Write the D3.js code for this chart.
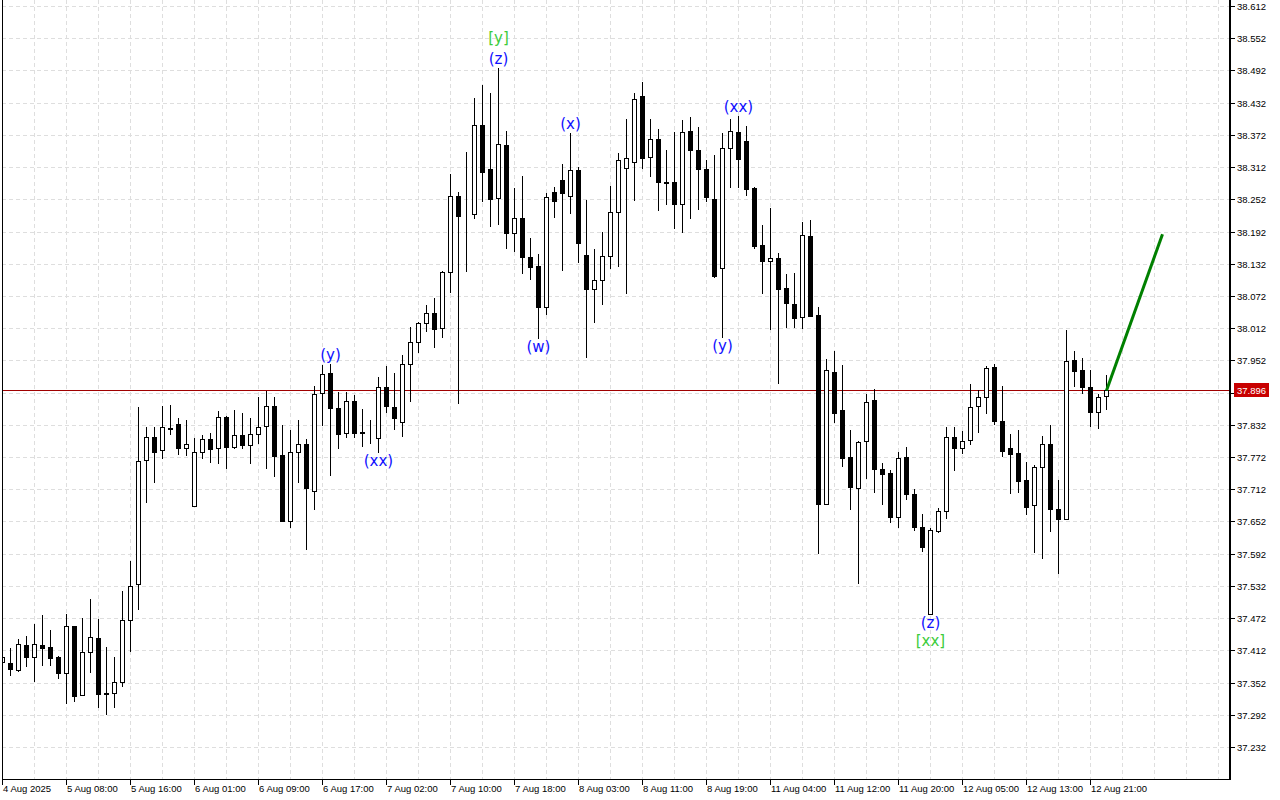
<!DOCTYPE html>
<html><head><meta charset="utf-8">
<script src="https://cdn.jsdelivr.net/npm/d3@7"></script>
<style>html,body{margin:0;padding:0;background:#fff;overflow:hidden}svg{display:block}</style>
</head><body>
<svg id="c" width="1280" height="800"></svg>
<script>
// ---- DATA (hourly bars) ----
const opens = [37.390,37.388,37.375,37.422,37.400,37.422,37.418,37.400,37.370,37.457,
37.329,37.409,37.435,37.333,37.333,37.353,37.469,37.536,37.767,37.809,
37.785,37.826,37.834,37.789,37.681,37.781,37.806,37.789,37.847,37.791,
37.813,37.794,37.815,37.830,37.867,37.776,37.653,37.781,37.796,37.709,
37.891,37.929,37.863,37.817,37.876,37.819,37.815,37.808,37.902,37.865,
37.837,37.945,37.986,38.022,38.040,38.012,38.117,38.258,38.224,38.225,
38.390,38.309,38.254,38.353,38.189,38.217,38.145,38.128,38.051,38.266,
38.288,38.258,38.307,38.148,38.085,38.102,38.146,38.228,38.310,38.322,
38.444,38.331,38.364,38.284,38.284,38.243,38.379,38.344,38.309,38.253,
38.124,38.348,38.377,38.361,38.273,38.167,38.137,38.143,38.087,38.057,
38.033,38.184,38.037,37.685,37.930,37.860,37.772,37.714,37.802,37.878,
37.750,37.742,37.660,37.772,37.703,37.642,37.480,37.634,37.672,37.809,
37.789,37.804,37.867,37.884,37.940,37.839,37.789,37.780,37.729,37.683,
37.754,37.796,37.675,37.657,37.953,37.934,37.902,37.856,37.886];
const highs = [37.403,37.416,37.433,37.439,37.461,37.478,37.450,37.402,37.480,37.458,
37.472,37.508,37.470,37.418,37.400,37.522,37.578,37.865,37.828,37.828,
37.867,37.869,37.845,37.841,37.808,37.813,37.817,37.858,37.849,37.860,
37.854,37.845,37.884,37.895,37.884,37.832,37.822,37.841,37.806,37.904,
37.943,37.945,37.893,37.893,37.888,37.862,37.841,37.921,37.942,37.929,
37.962,38.014,38.024,38.055,38.068,38.119,38.299,38.266,38.340,38.441,
38.465,38.450,38.497,38.379,38.273,38.295,38.180,38.150,38.264,38.275,
38.318,38.375,38.312,38.251,38.160,38.191,38.277,38.338,38.402,38.450,
38.471,38.402,38.383,38.344,38.377,38.400,38.405,38.387,38.325,38.335,
38.375,38.402,38.407,38.389,38.274,38.204,38.236,38.152,38.113,38.115,
38.210,38.213,38.051,37.955,37.970,37.943,37.822,37.801,37.889,37.899,
37.761,37.748,37.781,37.791,37.712,37.666,37.640,37.677,37.828,37.828,
37.820,37.908,37.897,37.942,37.945,37.904,37.815,37.822,37.763,37.757,
37.811,37.832,37.729,38.009,37.970,37.957,37.934,37.889,37.925];
const lows = [37.387,37.366,37.374,37.383,37.355,37.385,37.385,37.361,37.314,37.318,
37.328,37.372,37.307,37.293,37.307,37.346,37.411,37.489,37.688,37.726,
37.770,37.815,37.778,37.776,37.680,37.770,37.763,37.761,37.752,37.789,
37.789,37.761,37.798,37.752,37.737,37.652,37.642,37.726,37.601,37.675,
37.832,37.739,37.789,37.809,37.809,37.793,37.798,37.781,37.856,37.824,
37.811,37.876,37.968,38.007,37.977,37.996,38.079,37.873,38.119,38.217,
38.249,38.202,38.206,38.161,38.156,38.115,38.104,37.994,38.038,38.219,
38.120,38.226,38.135,37.958,38.024,38.057,38.124,38.128,38.078,38.251,
38.310,38.295,38.232,38.243,38.199,38.191,38.217,38.234,38.249,38.108,
37.996,38.275,38.275,38.260,38.161,38.078,38.011,37.910,38.014,38.014,
38.012,38.034,37.593,37.684,37.837,37.755,37.675,37.537,37.733,37.707,
37.685,37.651,37.642,37.694,37.636,37.597,37.479,37.632,37.658,37.748,
37.780,37.796,37.819,37.854,37.834,37.774,37.705,37.707,37.666,37.595,
37.584,37.634,37.556,37.656,37.904,37.891,37.830,37.826,37.862];
const closes = [37.400,37.377,37.424,37.400,37.424,37.416,37.398,37.370,37.457,37.327,
37.409,37.437,37.331,37.331,37.353,37.469,37.532,37.765,37.809,37.781,
37.828,37.824,37.789,37.796,37.781,37.806,37.787,37.847,37.791,37.813,
37.794,37.815,37.828,37.867,37.774,37.653,37.781,37.796,37.714,37.889,
37.927,37.863,37.815,37.876,37.817,37.817,37.814,37.902,37.867,37.845,
37.945,37.986,38.022,38.040,38.011,38.117,38.258,38.221,38.225,38.390,
38.303,38.253,38.355,38.189,38.217,38.145,38.126,38.051,38.256,38.249,
38.264,38.307,38.171,38.085,38.102,38.146,38.228,38.325,38.329,38.439,
38.329,38.364,38.284,38.282,38.243,38.377,38.344,38.309,38.256,38.109,
38.348,38.379,38.327,38.271,38.165,38.137,38.143,38.085,38.059,38.031,
38.186,38.035,37.685,37.934,37.854,37.770,37.716,37.800,37.874,37.750,
37.740,37.660,37.770,37.703,37.642,37.605,37.636,37.672,37.809,37.789,
37.802,37.865,37.884,37.938,37.839,37.783,37.778,37.727,37.679,37.754,
37.796,37.675,37.657,37.951,37.932,37.902,37.856,37.884,37.896];

const timeLabels = ["4 Aug 2025","5 Aug 08:00","5 Aug 16:00","6 Aug 01:00","6 Aug 09:00","6 Aug 17:00",
"7 Aug 02:00","7 Aug 10:00","7 Aug 18:00","8 Aug 03:00","8 Aug 11:00","8 Aug 19:00",
"11 Aug 04:00","11 Aug 12:00","11 Aug 20:00","12 Aug 05:00","12 Aug 13:00","12 Aug 21:00"];
const timeLabelBars = [0,8,16,24,32,40,48,56,64,72,80,88,96,104,112,120,128,136];

const priceTicks = [38.612,38.552,38.492,38.432,38.372,38.312,38.252,38.192,38.132,38.072,38.012,37.952,
37.892,37.832,37.772,37.712,37.652,37.592,37.532,37.472,37.412,37.352,37.292,37.232];

const bidPrice = 37.896;

// Elliott wave labels
const waveBars  = [41,47,62,62,67,71,90,92,116,116];
const waveTexts = ["(y)","(xx)","(z)","[y]","(w)","(x)","(y)","(xx)","(z)","[xx]"];
const waveSides = ["above","below","above","above","below","above","below","above","below","below"];
const waveLevel = [0,0,0,1,0,0,0,0,0,1];

// forecast arrow
const forecastBars   = [138,145];
const forecastPrices = [37.896,38.187];

// ---- DRAW ----
const W=1280, H=800, L=2, R=1230, B=779;
const svg = d3.select("#c");
const x = d3.scaleLinear().domain([0,153.5]).range([L,R]);
const y = d3.scaleLinear().domain([37.17239,38.61945]).range([B,2]);

svg.append("rect").attr("width",W).attr("height",H).attr("fill","#fff");

svg.append("defs").append("clipPath").attr("id","plot")
  .append("rect").attr("x",L+1).attr("y",0).attr("width",R-L-1).attr("height",B);

const grid = svg.append("g").attr("stroke","#dedede").attr("stroke-dasharray","4,3")
  .attr("shape-rendering","crispEdges");
grid.selectAll("line.h").data(priceTicks).join("line").attr("class","h")
  .attr("x1",L).attr("x2",R).attr("y1",d=>Math.round(y(d))+0.5).attr("y2",d=>Math.round(y(d))+0.5);
grid.selectAll("line.v").data(d3.range(4,154,4)).join("line").attr("class","v")
  .attr("x1",d=>Math.round(x(d))+0.5).attr("x2",d=>Math.round(x(d))+0.5).attr("y1",0).attr("y2",B);

// bid line
svg.append("line").attr("x1",L).attr("x2",R)
  .attr("y1",Math.round(y(bidPrice))+0.5).attr("y2",Math.round(y(bidPrice))+0.5)
  .attr("stroke","#a00000").attr("stroke-width",1).attr("shape-rendering","crispEdges");

const bars = opens.map((o,i)=>({i,o,h:highs[i],l:lows[i],c:closes[i]}));
const cg = svg.append("g").attr("clip-path","url(#plot)").attr("shape-rendering","crispEdges");
const bg = cg.selectAll("g").data(bars).join("g");
bg.append("line")
  .attr("x1",d=>Math.round(x(d.i))+0.5).attr("x2",d=>Math.round(x(d.i))+0.5)
  .attr("y1",d=>Math.round(y(d.h))).attr("y2",d=>Math.round(y(d.l))+1)
  .attr("stroke","#000").attr("stroke-width",1);
bg.append("rect")
  .attr("x",d=>Math.round(x(d.i))-1.5).attr("width",4)
  .attr("y",d=>Math.round(y(Math.max(d.o,d.c)))+0.5)
  .attr("height",d=>Math.max(0,Math.round(y(Math.min(d.o,d.c)))-Math.round(y(Math.max(d.o,d.c)))))
  .attr("fill",d=>d.c>=d.o?"#fff":"#000").attr("stroke","#000").attr("stroke-width",1);

// forecast line
svg.append("line")
  .attr("x1",x(forecastBars[0])+0.5).attr("y1",y(forecastPrices[0]))
  .attr("x2",x(forecastBars[1])+0.5).attr("y2",y(forecastPrices[1]))
  .attr("stroke","#008000").attr("stroke-width",3);

// wave labels
svg.append("g").selectAll("text").data(waveTexts).join("text")
  .attr("x",(d,k)=>x(waveBars[k])+0.5)
  .attr("y",(d,k)=>{
    const b=waveBars[k];
    return waveSides[k]==="above" ? y(highs[b])-4-waveLevel[k]*21 : y(lows[b])+14+waveLevel[k]*18;
  })
  .attr("text-anchor","middle")
  .attr("font-family","DejaVu Sans, Verdana, sans-serif").attr("font-size","15px")
  .attr("fill",d=>d.startsWith("[")?"#3ccc3c":"#1010ff")
  .text(d=>d);

// axes
const ax = svg.append("g").attr("shape-rendering","crispEdges");
ax.append("line").attr("x1",L+0.5).attr("x2",L+0.5).attr("y1",0).attr("y2",B).attr("stroke","#000");
ax.append("line").attr("x1",L).attr("x2",R+1).attr("y1",B+0.5).attr("y2",B+0.5).attr("stroke","#000").attr("stroke-width",1);
ax.append("line").attr("x1",R).attr("x2",R).attr("y1",0).attr("y2",B+1).attr("stroke","#000").attr("stroke-width",2);

const fontAx = "Liberation Sans, Arial, sans-serif";
ax.selectAll("line.pt").data(priceTicks).join("line").attr("class","pt")
  .attr("x1",R).attr("x2",R+5).attr("y1",d=>Math.round(y(d))+0.5).attr("y2",d=>Math.round(y(d))+0.5).attr("stroke","#000");
svg.append("g").selectAll("text").data(priceTicks).join("text")
  .attr("x",R+7).attr("y",d=>Math.round(y(d))+0.5).attr("dy","0.35em")
  .attr("font-family",fontAx).attr("font-size","9.5px").attr("fill","#000")
  .text(d=>d.toFixed(3));

ax.selectAll("line.tt").data(timeLabelBars).join("line").attr("class","tt")
  .attr("x1",d=>Math.round(x(d))+0.5).attr("x2",d=>Math.round(x(d))+0.5).attr("y1",B).attr("y2",B+6).attr("stroke","#000");
svg.append("g").selectAll("text").data(timeLabels).join("text")
  .attr("x",(d,k)=>Math.round(x(timeLabelBars[k]))+1).attr("y",B+13)
  .attr("font-family",fontAx).attr("font-size","9.5px").attr("fill","#000")
  .text(d=>d);

// bid price label
const by = Math.round(y(bidPrice));
svg.append("rect").attr("x",R+4).attr("y",by-7).attr("width",35).attr("height",14).attr("fill","#c80000");
svg.append("text").attr("x",R+7).attr("y",by+0.5).attr("dy","0.35em")
  .attr("font-family",fontAx).attr("font-size","9.5px").attr("fill","#fff").text(bidPrice.toFixed(3));
</script>
</body></html>
